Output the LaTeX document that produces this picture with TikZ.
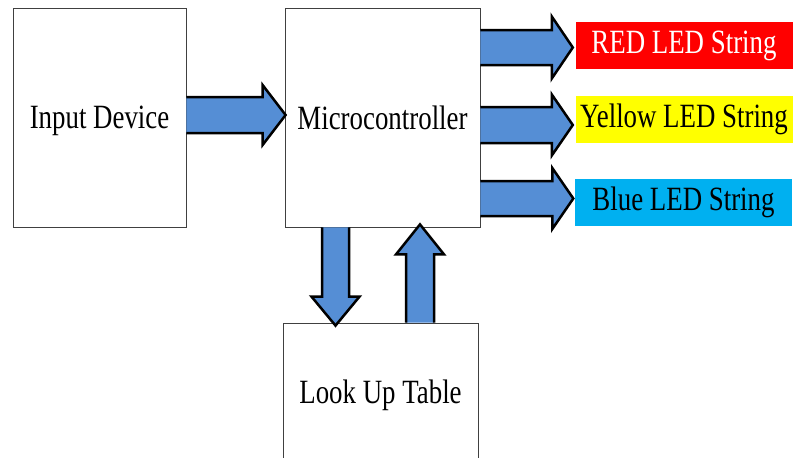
\documentclass[tikz,border=0pt]{standalone}
\usepackage{fontspec}
\usepackage{graphicx}
\setmainfont{Liberation Serif}
\usetikzlibrary{calc}

\definecolor{arrowblue}{HTML}{558ED5}
\definecolor{ledred}{HTML}{FF0000}
\definecolor{ledyellow}{HTML}{FFFF00}
\definecolor{ledblue}{HTML}{00B0F0}

% narrow, tall lettering used for every label
\newcommand{\lbl}[1]{\scalebox{0.79}[1]{\fontsize{34}{40}\selectfont #1}}

% Horizontal block arrow: tail, tip, shaft half-height, head half-height, head length
\newcommand{\harrow}[5]{%
  \draw[blockarrow] let \p1=(#1), \p2=(#2) in
    (\x1,\y1+#3) -- (\x2-#5,\y1+#3) -- (\x2-#5,\y1+#4) -- (\x2,\y1)
    -- (\x2-#5,\y1-#4) -- (\x2-#5,\y1-#3) -- (\x1,\y1-#3);}
% Vertical block arrow: tail, tip, shaft half-width, head half-width, signed head length
\newcommand{\varrow}[5]{%
  \draw[blockarrow] let \p1=(#1), \p2=(#2) in
    (\x1-#3,\y1) -- (\x1-#3,\y2+#5) -- (\x1-#4,\y2+#5) -- (\x1,\y2)
    -- (\x1+#4,\y2+#5) -- (\x1+#3,\y2+#5) -- (\x1+#3,\y1);}

\begin{document}
\begin{tikzpicture}[x=1pt,y=-1pt,
  box/.style={draw=black!75, line width=0.8pt, fill=white, inner sep=0pt},
  ledbox/.style={inner sep=0pt, minimum width=217pt, minimum height=47pt},
  blockarrow/.style={fill=arrowblue, draw=black, line width=2.5pt, line join=miter}]

\useasboundingbox (0,0) rectangle (793,458);
\clip (0,0) rectangle (793,458);

% blocks
\node[box, text depth=0pt, minimum width=173pt, minimum height=219pt] (inp) at (99.5,117.5) {\lbl{Input Device}};
\node[box, text depth=0pt, minimum width=195pt, minimum height=219pt] (mic) at (382.5,117.5) {\lbl{Microcontroller}};
\node[box, minimum width=195pt, minimum height=160pt] (lut) at (380.5,403) {};
\node[text depth=0pt] (lutt) at (380.5,392) {\lbl{Look Up Table}};

% LED string labels
\node[ledbox, fill=ledred, text=white] (red) at (684,45.5) {\lbl{RED LED String}};
\node[ledbox, fill=ledyellow] (yel) at (684,119.5) {\lbl{Yellow LED String}};
\node[ledbox, fill=ledblue] (blu) at (683.5,202.5) {\lbl{Blue LED String}};

% input to microcontroller
\coordinate (a1) at (inp.east |- 0,115);
\coordinate (b1) at ($(mic.west |- 0,115)+(1,0)$);
\harrow{a1}{b1}{18}{30}{23}

% microcontroller to LED strings
\coordinate (a2) at (mic.east |- 0,47.5);
\coordinate (b2) at ($(red.west |- 0,47.5)+(-2.5,0)$);
\harrow{a2}{b2}{17.5}{31}{21}
\coordinate (a3) at (mic.east |- 0,125);
\coordinate (b3) at ($(yel.west |- 0,125)+(-2.5,0)$);
\harrow{a3}{b3}{18}{30.5}{21}
\coordinate (a4) at (mic.east |- 0,198.5);
\coordinate (b4) at ($(blu.west |- 0,198.5)+(-1.5,0)$);
\harrow{a4}{b4}{17.5}{30.5}{21}

% microcontroller <-> look up table
\coordinate (a5) at (mic.south -| 335.5,0);
\coordinate (b5) at ($(lut.north -| 335.5,0)+(0,3)$);
\varrow{a5}{b5}{13.5}{24}{29}
\coordinate (a6) at (lut.north -| 420,0);
\coordinate (b6) at ($(mic.south -| 420,0)+(0,-3)$);
\varrow{a6}{b6}{14}{24}{-30}

\end{tikzpicture}
\end{document}
